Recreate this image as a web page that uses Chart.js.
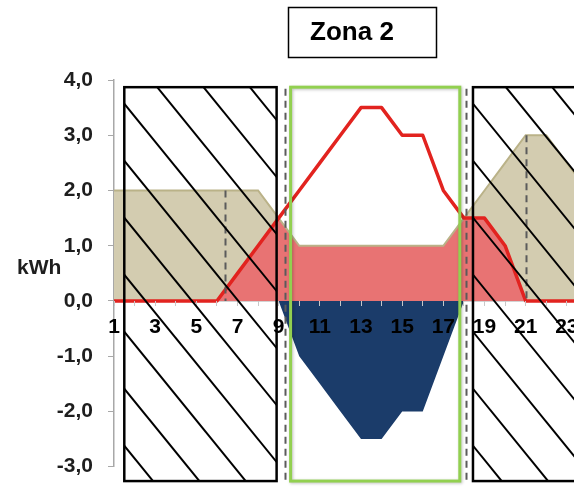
<!DOCTYPE html>
<html>
<head>
<meta charset="utf-8">
<script src="https://cdn.jsdelivr.net/npm/chart.js@4.4.1/dist/chart.umd.min.js"></script>
<style>
  html, body { margin: 0; padding: 0; background: #fff; overflow: hidden; width: 574px; height: 487px; }
  canvas { display: block; }
</style>
</head>
<body>
<canvas id="c" width="608" height="487"></canvas>
<script>
// Hours of the day (categories)
const hours = [1,2,3,4,5,6,7,8,9,10,11,12,13,14,15,16,17,18,19,20,21,22,23,24];
// Consumption (beige area), kWh
const consumption = [2,2,2,2,2,2,2,2,1.5,1,1,1,1,1,1,1,1,1.5,2,2.5,3,3,2.5,2];
// PV production (red line), kWh
const production = [0,0,0,0,0,0,0.5,1,1.5,2,2.5,3,3.5,3.5,3,3,2,1.5,1.5,1,0,0,0,0];
// Self-consumed energy (pink area), kWh
const selfConsumed = [0,0,0,0,0,0,0.5,1,1.5,1,1,1,1,1,1,1,1,1.5,1.5,1,0,0,0,0];
// Energy fed to the grid (navy area, negative), kWh
const fedToGrid = [0,0,0,0,0,0,0,0,0,-1,-1.5,-2,-2.5,-2.5,-2,-2,-1,0,0,0,0,0,0,0];
// Y tick values
const yTicks = [-3,-2,-1,0,1,2,3,4];
// Zones (in hour units)
const zoneLeft = [1.5, 8.9];
const zoneMid = [9.58, 17.8];
const zoneRight = [18.44, 27];
const zoneTitle = 'Zona 2';
const yTitle = 'kWh';

const pts = arr => hours.map((h, i) => ({x: h, y: arr[i]}));
const FONT = "'Liberation Sans', Arial, sans-serif";

const overlay = {
  id: 'overlay',
  afterDraw(chart) {
    const {ctx} = chart;
    const xs = chart.scales.x, ys = chart.scales.y;
    const X = v => xs.getPixelForValue(v), Y = v => ys.getPixelForValue(v);
    const top = Y(3.87), bot = Y(-3.26);
    ctx.save();
    // dashed verticals
    ctx.strokeStyle = '#5b5b5b'; ctx.lineWidth = 2; ctx.setLineDash([7,5]);
    const dl = (xv, y0, y1) => { ctx.beginPath(); ctx.moveTo(Math.round(X(xv))+0.5, y0); ctx.lineTo(Math.round(X(xv))+0.5, y1); ctx.stroke(); };
    dl(9.3, Y(3.84), bot);
    dl(18.1, Y(3.84), bot);
    dl(6.38, Y(2.0), Y(0));
    dl(21.03, Y(3.0), Y(0));
    ctx.setLineDash([]);
    // hatched boxes
    const hatchBox = (xa, xb) => {
      const x0 = X(xa), x1 = X(xb);
      ctx.save();
      ctx.beginPath(); ctx.rect(x0, top, x1 - x0, bot - top); ctx.clip();
      ctx.strokeStyle = '#000'; ctx.lineWidth = 2;
      const s = 1.23, sp = 57, y0 = top + 16.5;
      for (let k = -15; k <= 15; k++) {
        const yk = y0 + sp * k;
        ctx.beginPath(); ctx.moveTo(x0 - 800, yk - 800 * s); ctx.lineTo(x0 + 800, yk + 800 * s); ctx.stroke();
      }
      ctx.restore();
      ctx.strokeStyle = '#000'; ctx.lineWidth = 2.5;
      ctx.strokeRect(x0, top, x1 - x0, bot - top);
    };
    hatchBox(zoneLeft[0], zoneLeft[1]);
    hatchBox(zoneRight[0], zoneRight[1]);
    // green zone
    ctx.shadowColor = 'rgba(0,0,0,0.25)'; ctx.shadowBlur = 3; ctx.shadowOffsetX = 1; ctx.shadowOffsetY = 1;
    ctx.strokeStyle = '#92d050'; ctx.lineWidth = 3;
    ctx.strokeRect(X(zoneMid[0]), Y(3.87), X(zoneMid[1]) - X(zoneMid[0]), bot - Y(3.87));
    ctx.shadowColor = 'transparent';
    // title box
    ctx.strokeStyle = '#000'; ctx.lineWidth = 1.5;
    ctx.strokeRect(288.5, 7.5, 148, 50);
    ctx.fillStyle = '#000'; ctx.font = 'bold 26px ' + FONT;
    ctx.textAlign = 'center'; ctx.textBaseline = 'middle';
    ctx.fillText(zoneTitle, 352, 33);
    // y title
    ctx.fillStyle = '#1e1e1e'; ctx.font = 'bold 21px ' + FONT;
    ctx.textAlign = 'left';
    ctx.fillText(yTitle, 17, 268);
    ctx.restore();
  }
};

new Chart(document.getElementById('c'), {
  type: 'line',
  data: {
    datasets: [
      { label: 'Consumo', data: pts(consumption), xAxisID: 'x', order: 5,
        backgroundColor: '#d3ccb0', borderWidth: 0, fill: 'origin', pointRadius: 0, tension: 0 },
      { label: 'Autoconsumo', data: pts(selfConsumed), xAxisID: 'x', order: 4,
        backgroundColor: '#e87373', borderWidth: 0, fill: 'origin', pointRadius: 0, tension: 0 },
      { label: 'Consumo linea', data: pts(consumption), xAxisID: 'x', order: 3,
        borderColor: '#bab288', borderWidth: 2, fill: false, pointRadius: 0, tension: 0 },
      { label: 'Rete', data: pts(fedToGrid), xAxisID: 'x', order: 2,
        backgroundColor: '#1b3c6a', borderWidth: 0, fill: 'origin', pointRadius: 0, tension: 0 },
      { label: 'Produzione', data: pts(production), xAxisID: 'x', order: 1,
        borderColor: '#e2231f', borderWidth: 3.5, fill: false, pointRadius: 0, tension: 0,
        borderJoinStyle: 'round', borderCapStyle: 'butt' }
    ]
  },
  options: {
    responsive: false,
    devicePixelRatio: 1,
    animation: false,
    layout: { padding: { top: 80, bottom: 20.3, left: 0, right: 0 } },
    plugins: { legend: { display: false }, tooltip: { enabled: false } },
    scales: {
      x: {
        type: 'linear', axis: 'x', min: 1, max: 25, position: { y: 0 },
        afterFit: s => { s.paddingLeft = 0; s.paddingRight = 0; },
        grid: { display: false },
        border: { display: true, color: '#a8a8a8', width: 1.5 },
        ticks: { display: false }
      },
      x2: {
        type: 'linear', axis: 'x', min: 1, max: 25, position: { y: 0 },
        afterFit: s => { s.paddingLeft = 0; s.paddingRight = 0; },
        grid: { display: true, z: 1, drawOnChartArea: false, drawTicks: true, tickLength: 5, color: '#c8c8c8', lineWidth: 1 },
        border: { display: false },
        ticks: {
          z: 1, autoSkip: false, stepSize: 1, maxRotation: 0, padding: 9,
          color: '#000000', font: { family: FONT, size: 21, weight: 'bold' },
          callback: v => (v % 2 === 1 && v <= 23 && hours.includes(v)) ? String(v) : ''
        }
      },
      y: {
        type: 'linear', min: -3, max: 4, position: 'left',
        afterFit: s => { s.width = 114; s.paddingTop = 0; s.paddingBottom = 0; },
        afterBuildTicks: s => { s.ticks = yTicks.map(v => ({value: v})); },
        grid: { display: true, drawOnChartArea: false, drawTicks: true, tickLength: 6, color: '#a8a8a8' },
        border: { display: true, color: '#a8a8a8', width: 1.5 },
        ticks: {
          padding: 15, color: '#1e1e1e', font: { family: FONT, size: 21, weight: 'bold' },
          callback: v => v.toFixed(1).replace('.', ',')
        }
      }
    }
  },
  plugins: [overlay]
});
</script>
</body>
</html>
